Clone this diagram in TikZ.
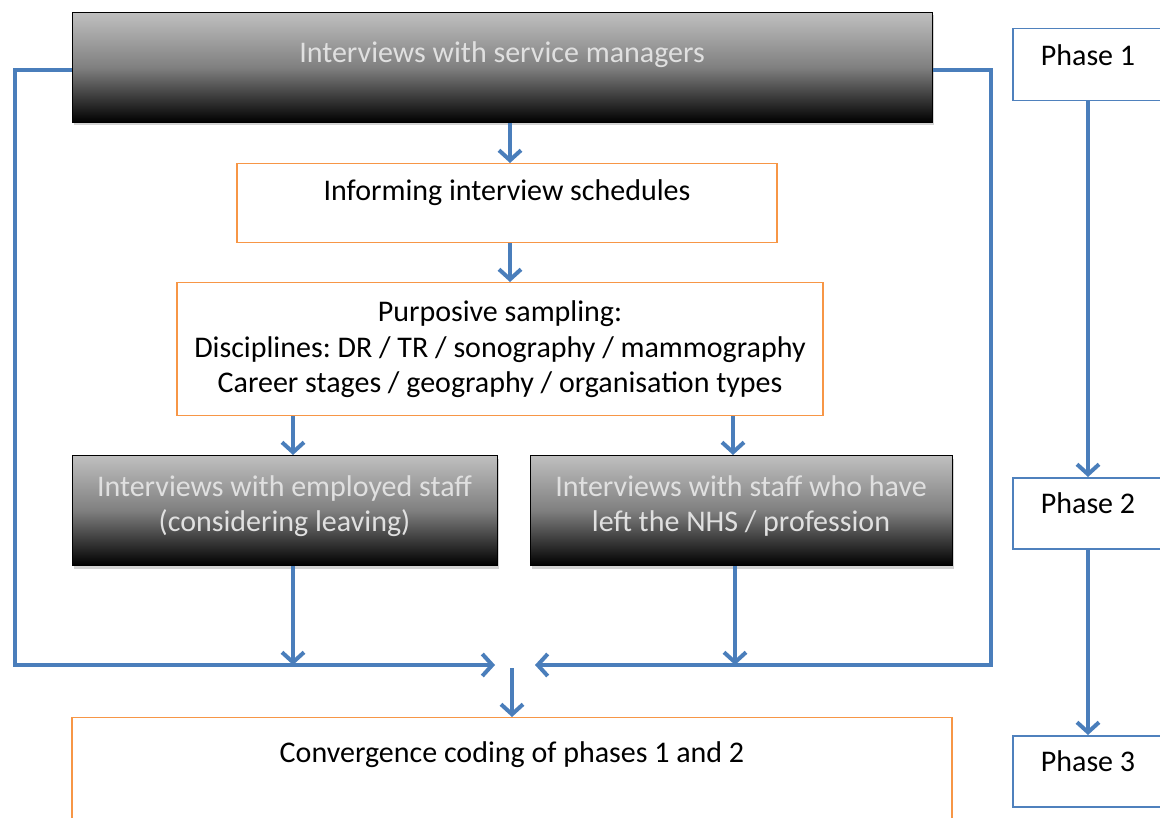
\documentclass[tikz,border=0pt]{standalone}
\usepackage{fontspec}
\setmainfont{Carlito}
\frenchspacing
\usetikzlibrary{arrows.meta,shadows}
\definecolor{flowblue}{HTML}{4A7EBB}
\definecolor{boxorange}{HTML}{F79646}
\definecolor{phaseblue}{HTML}{4F81BD}
\definecolor{paletext}{HTML}{E0E0E0}
\tikzset{
  darkbox/.style={draw=black, line width=1pt, top color=black!25, bottom color=black,
    middle color=black!50, shading angle=0,
    drop shadow={shadow xshift=2pt, shadow yshift=-3pt, opacity=0.35},
    text=paletext, inner sep=0pt, align=center},
  orangebox/.style={draw=boxorange, line width=1.2pt, fill=white, inner sep=0pt, align=center},
  phasebox/.style={draw=phaseblue, line width=1.5pt, fill=white, inner sep=0pt, align=center,
    minimum width=150pt},
  flow/.style={draw=flowblue, line width=4pt,
    -{Straight Barb[length=10pt,width=22pt]}},
}
\begin{document}
\begin{tikzpicture}[x=1pt,y=-1pt,font=\fontsize{30}{35.5}\selectfont]
\useasboundingbox (0,0) rectangle (1160,818);
\clip (0,0) rectangle (1160,818);

% main column of boxes (text height is measured to the last baseline)
\node[darkbox, minimum width=860pt, text height=50pt, text depth=60pt, anchor=north]
  (mgr) at (502,12) {Interviews with service managers};
\node[orangebox, minimum width=540pt, text height=37pt, text depth=42pt, anchor=north]
  (sched) at (507,163) {Informing interview schedules};
\node[orangebox, minimum width=646pt, text height=110pt, text depth=23pt, anchor=north]
  (samp) at (500,282) {Purposive sampling:\\Disciplines: DR / TR / sonography / mammography\\Career stages / geography / organisation types};
\node[darkbox, minimum width=425pt, text height=76pt, text depth=34pt, anchor=north]
  (emp) at (284.5,455) {Interviews with employed staff\\(considering leaving)};
\node[darkbox, minimum width=422pt, text height=76pt, text depth=34pt, anchor=north]
  (left) at (741,455) {Interviews with staff who have\\left the NHS / profession};
\node[orangebox, minimum width=880pt, text height=45pt, text depth=80pt, anchor=north]
  (conv) at (512,717) {Convergence coding of phases 1 and 2};

% phase column
\node[phasebox, text height=37pt, text depth=35pt, anchor=north] (ph1) at (1088,28) {Phase 1};
\node[phasebox, text height=36pt, text depth=35pt, anchor=north] (ph2) at (1088,477) {Phase 2};
\node[phasebox, text height=36pt, text depth=35pt, anchor=north] (ph3) at (1088,735) {Phase 3};

% merge points above the coding box
\coordinate (mL) at (495,665);
\coordinate (mR) at (535,665);
\coordinate (mC) at (512,668);

% vertical flow
\draw[flow] ([xshift=8pt]mgr.south) -- ([xshift=3pt]sched.north);
\draw[flow] ([xshift=3pt]sched.south) -- ([xshift=10pt]samp.north);
\draw[flow] (samp.south -| 293,0) -- (emp.north -| 293,0);
\draw[flow] (samp.south -| 733,0) -- (left.north -| 733,0);
\draw[flow] (emp.south -| 293,0) -- (mL -| 293,0);
\draw[flow] (left.south -| 735,0) -- (mR -| 735,0);
\draw[flow] (mC) -- (conv.north);

% loops from the manager interviews to the merge
\draw[flow] ([yshift=-3pt]mgr.west) -- ++(-57,0) |- (mL);
\draw[flow] ([yshift=-3pt]mgr.east) -- ++(58,0) |- (mR);

% phase arrows
\draw[flow] (ph1.south) -- (ph2.north);
\draw[flow] (ph2.south) -- (ph3.north);
\end{tikzpicture}
\end{document}
